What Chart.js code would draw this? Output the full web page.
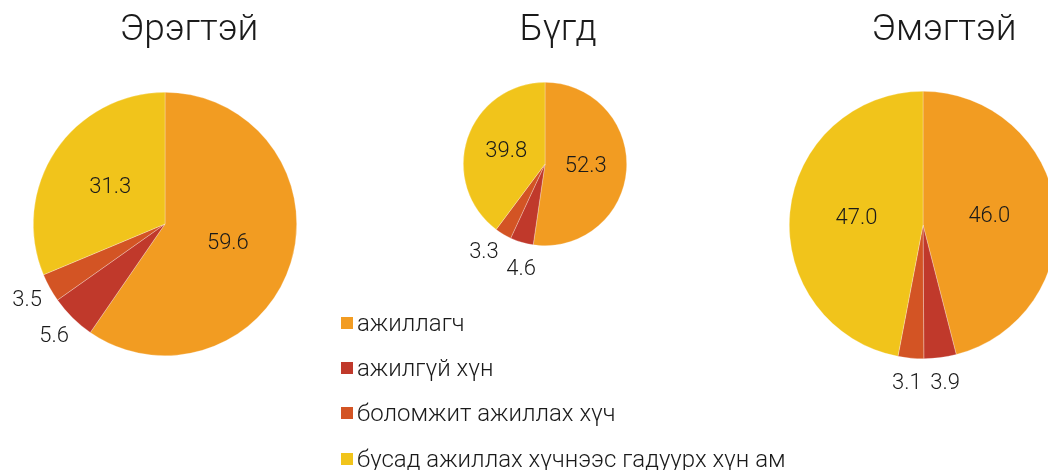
<!DOCTYPE html>
<html>
<head>
<meta charset="utf-8">
<script src="https://cdn.jsdelivr.net/npm/chart.js@4"></script>
<style>
  html, body { margin: 0; padding: 0; width: 1048px; height: 470px; overflow: hidden; background: #fff; }
  .pie { position: absolute; }
  #legend { position: absolute; left: 341px; top: 300px; font-family: Roboto, sans-serif; font-weight: 300; font-size: 24px; color: #1a1a1a; }
  .item { display: flex; align-items: center; height: 45.3px; white-space: nowrap; }
  .box { width: 12px; height: 12px; margin-right: 4px; flex: none; }
</style>
</head>
<body>
<div class="pie" style="left:0px; top:0px; width:378px; height:400px;"><canvas id="c0"></canvas></div>
<div class="pie" style="left:458px; top:0px; width:200px; height:290px;"><canvas id="c1"></canvas></div>
<div class="pie" style="left:789px; top:0px; width:310px; height:400px;"><canvas id="c2"></canvas></div>
<div id="legend"></div>
<script>
// ---- data ----
const categories = ['ажиллагч', 'ажилгүй хүн', 'боломжит ажиллах хүч', 'бусад ажиллах хүчнээс гадуурх хүн ам'];
const chartTitles = ['Эрэгтэй', 'Бүгд', 'Эмэгтэй'];
const maleValues = [59.6, 5.6, 3.5, 31.3];
const totalValues = [52.3, 4.6, 3.3, 39.8];
const femaleValues = [46.0, 3.9, 3.1, 47.0];

// ---- styles ----
const sliceColors = ['#F29C22', '#C0392B', '#D35424', '#F1C41B'];
const FONT = 'Roboto, sans-serif';

// Title centred on the whole canvas (not on the chart area)
const canvasTitle = {
  id: 'canvasTitle',
  afterDraw(chart, args, opts) {
    const ctx = chart.ctx;
    ctx.save();
    ctx.font = '300 37px ' + FONT;
    ctx.fillStyle = '#1a1a1a';
    ctx.textAlign = 'center';
    ctx.textBaseline = 'alphabetic';
    ctx.fillText(opts.text, chart.width / 2, 40);
    ctx.restore();
  }
};

const labelPlugin = {
  id: 'sliceLabels',
  afterDatasetsDraw(chart) {
    const ctx = chart.ctx;
    const meta = chart.getDatasetMeta(0);
    const data = chart.data.datasets[0].data;
    ctx.save();
    ctx.font = '300 22px ' + FONT;
    ctx.fillStyle = '#1a1a1a';
    ctx.textAlign = 'center';
    ctx.textBaseline = 'middle';
    const outside = [];
    meta.data.forEach((arc, i) => {
      const p = arc.getProps(['x', 'y', 'startAngle', 'endAngle', 'outerRadius'], true);
      const mid = (p.startAngle + p.endAngle) / 2;
      const v = data[i];
      const txt = v.toFixed(1);
      if (v >= 10) {
        const r = p.outerRadius * 0.5;
        ctx.fillText(txt, p.x + Math.cos(mid) * r, p.y + Math.sin(mid) * r);
      } else {
        outside.push({ txt, a: mid, r: p.outerRadius + 26, cx: p.x, cy: p.y, w: ctx.measureText(txt).width });
      }
    });
    // simple overlap avoidance between outside labels
    outside.sort((a, b) => a.a - b.a);
    const pos = l => [l.cx + Math.cos(l.a) * l.r, l.cy + Math.sin(l.a) * l.r];
    for (let it = 0; it < 200; it++) {
      let moved = false;
      for (let k = 0; k + 1 < outside.length; k++) {
        const A = outside[k], B = outside[k + 1];
        const [ax, ay] = pos(A), [bx, by] = pos(B);
        if (Math.abs(ax - bx) < (A.w + B.w) / 2 + 7 && Math.abs(ay - by) < 24) {
          A.a -= 0.005; B.a += 0.005; moved = true;
        }
      }
      if (!moved) break;
    }
    outside.forEach(l => { const [x, y] = pos(l); ctx.fillText(l.txt, x, y); });
    ctx.restore();
  }
};

function makePie(id, title, values, layoutPad) {
  return new Chart(document.getElementById(id), {
    type: 'pie',
    data: {
      labels: categories,
      datasets: [{
        data: values,
        backgroundColor: sliceColors,
        borderColor: 'rgba(255,255,255,0.45)',
        borderWidth: 0.6
      }]
    },
    options: {
      responsive: true,
      maintainAspectRatio: false,
      animation: false,
      layout: { padding: layoutPad },
      plugins: {
        legend: { display: false },
        tooltip: { enabled: false },
        title: { display: false },
        canvasTitle: { text: title }
      }
    },
    plugins: [labelPlugin, canvasTitle]
  });
}

makePie('c0', chartTitles[0], maleValues, { left: 0, right: 48, top: 92, bottom: 44 });
makePie('c1', chartTitles[1], totalValues, { left: 0, right: 26, top: 82, bottom: 44 });
makePie('c2', chartTitles[2], femaleValues, { left: 0, right: 42, top: 91, bottom: 41 });

// ---- legend ----
const legend = document.getElementById('legend');
categories.forEach((c, i) => {
  const row = document.createElement('div');
  row.className = 'item';
  const box = document.createElement('span');
  box.className = 'box';
  box.style.background = sliceColors[i];
  const txt = document.createElement('span');
  txt.textContent = c;
  row.appendChild(box);
  row.appendChild(txt);
  legend.appendChild(row);
});
</script>
</body>
</html>
